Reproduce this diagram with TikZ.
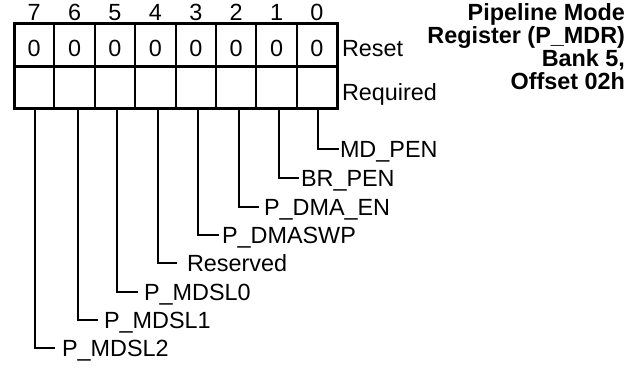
\documentclass[tikz,border=0pt]{standalone}
\usepackage{fontspec}
\setmainfont{Liberation Sans}
\begin{document}
\begin{tikzpicture}[x=1pt,y=-1pt,
  cell/.style={draw, line width=2pt, minimum width=40.4pt, minimum height=42.5pt, inner sep=0pt, outer sep=0pt},
  txt/.style={font=\fontsize{23.4}{23.4}\selectfont, inner sep=0pt, outer sep=0pt},
  lbl/.style={txt, text height=16.8pt, text depth=0pt, anchor=west},
  ttl/.style={font=\bfseries\fontsize{23.4}{23.4}\selectfont, inner sep=0pt, outer sep=0pt, anchor=base east},
  lead/.style={line width=2pt}]
\useasboundingbox (0,0) rectangle (637,375);
% cells
\foreach \i in {0,...,7} {
  \pgfmathsetmacro{\cx}{14+40.4*(7-\i)+20.2}
  \node[cell] (r\i) at (\cx,44.75) {};
  \node[cell] (q\i) at (\cx,87.25) {};
  \node[txt] (z\i) at (\cx,48.3) {0};
  \node[txt] (b\i) at (\cx,12.5) {\i};
}
\draw[line width=3pt] (r7.north west) rectangle (q0.south east);
\draw[line width=3pt] (r7.south west) -- (r0.south east);
% row labels
\node[lbl] (reset) at (342,47.7) {Reset};
\node[lbl] (req) at (342,91.7) {Required};
% title
\node[ttl] (t1) at (625,20.7) {Pipeline Mode};
\node[ttl] (t2) at (625,43.6) {Register (P\_MDR)};
\node[ttl] (t3) at (625,66.5) {Bank 5,};
\node[ttl] (t4) at (625,89.4) {Offset 02h};
% field labels
\foreach \i/\lx/\ly/\g/\dx/\name in {
  0/340/149/1/1/MD\_PEN,
  1/301/178/2/2.4/BR\_PEN,
  2/264/207/5/2.8/P\_DMA\_EN,
  3/222/235/3/2.2/P\_DMASWP,
  4/187/263/10/2.6/Reserved,
  5/144/292/6/2/P\_MDSL0,
  6/104/320/6/3.4/P\_MDSL1,
  7/62/348/7/0.8/P\_MDSL2} {
  \node[lbl] (l\i) at (\lx,\ly) {\name};
  \draw[lead, shorten >=\g pt] ([xshift=\dx pt]q\i.south) |- (l\i.west);
}
\end{tikzpicture}
\end{document}
